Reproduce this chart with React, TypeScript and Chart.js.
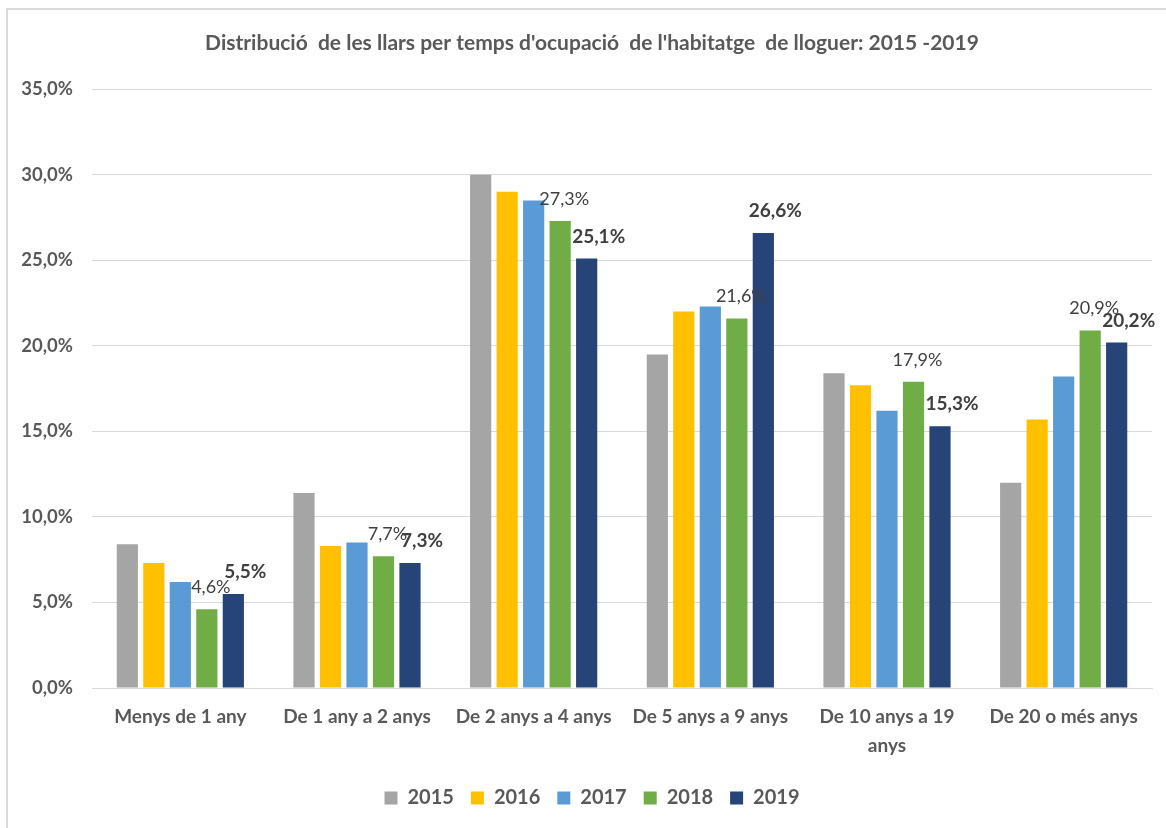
import React, { useEffect, useRef } from "react";
import { Chart, registerables } from "chart.js";

Chart.register(...registerables);

const categories: (string | string[])[] = [
  "Menys de 1 any",
  "De 1 any a 2 anys",
  "De 2 anys a 4 anys",
  "De 5 anys a 9 anys",
  ["De 10 anys a 19", "anys"],
  "De 20 o més anys",
];

const years = ["2015", "2016", "2017", "2018", "2019"];

const values2015 = [8.4, 11.4, 30.0, 19.5, 18.4, 12.0];
const values2016 = [7.3, 8.3, 29.0, 22.0, 17.7, 15.7];
const values2017 = [6.2, 8.5, 28.5, 22.3, 16.2, 18.2];
const values2018 = [4.6, 7.7, 27.3, 21.6, 17.9, 20.9];
const values2019 = [5.5, 7.3, 25.1, 26.6, 15.3, 20.2];

const colors = ["#A5A5A5", "#FFC000", "#5B9BD5", "#70AD47", "#264478"];

const yTicksMax = 35;
const yTicksStep = 5;

const FONT = "Lato, 'Open Sans', sans-serif";
const TEXT = "#595959";

const fmt = (v: number) => v.toFixed(1).replace(".", ",") + "%";

const labelPlugin = {
  id: "barValueLabels",
  afterDatasetsDraw(chart: any) {
    const ctx = chart.ctx;
    ctx.save();
    ctx.textAlign = "center";
    ctx.textBaseline = "middle";
    ctx.fillStyle = "#404040";
    [3, 4].forEach((di) => {
      const meta = chart.getDatasetMeta(di);
      const ds = chart.data.datasets[di];
      const bold = di === 4;
      ctx.font = `${bold ? "bold " : ""}${bold ? 19 : 18}px ${FONT}`;
      meta.data.forEach((bar: any, i: number) => {
        const v = ds.data[i] as number;
        const dx = bold ? 12 : 4;
        ctx.fillText(fmt(v), bar.x + dx, bar.y - 22);
      });
    });
    ctx.restore();
  },
};

export default function App() {
  const ref = useRef<HTMLCanvasElement | null>(null);

  useEffect(() => {
    document.body.style.margin = "0";
    const all = [values2015, values2016, values2017, values2018, values2019];
    const chart = new Chart(ref.current as HTMLCanvasElement, {
      type: "bar",
      data: {
        labels: categories as any,
        datasets: years.map((y, i) => ({
          label: y,
          data: all[i],
          backgroundColor: colors[i],
          borderWidth: 0,
          categoryPercentage: 0.75,
          barPercentage: 0.8,
        })),
      },
      options: {
        animation: false,
        responsive: false,
        maintainAspectRatio: false,
        layout: { padding: { left: 32, right: 14, top: 0, bottom: 10 } },
        plugins: {
          title: {
            display: true,
            text: "Distribució  de les llars per temps d'ocupació  de l'habitatge  de lloguer: 2015 -2019",
            color: TEXT,
            font: { family: FONT, size: 21, weight: "bold", lineHeight: 1.2 },
            padding: { top: 31, bottom: 33 },
          },
          legend: {
            position: "bottom",
            labels: {
              color: TEXT,
              font: { family: FONT, size: 20, weight: "bold" },
              boxWidth: 13,
              boxHeight: 13,
              padding: 17,
            },
          },
          tooltip: { enabled: false },
        },
        scales: {
          x: {
            grid: { display: false, drawTicks: false },
            border: { display: true, color: "#D9D9D9", width: 1 },
            ticks: {
              color: TEXT,
              font: { family: FONT, size: 19, weight: "bold", lineHeight: 1.5 },
              padding: 15,
              maxRotation: 0,
              autoSkip: false,
            },
            afterFit: (axis: any) => {
              axis.height = 83;
            },
          },
          y: {
            min: 0,
            max: yTicksMax,
            grid: { color: "#D9D9D9", lineWidth: 1, drawTicks: false },
            border: { display: false },
            ticks: {
              stepSize: yTicksStep,
              color: TEXT,
              font: { family: FONT, size: 18.5, weight: "bold" },
              padding: 19,
              callback: (v: any) => fmt(Number(v)),
            },
            afterFit: (axis: any) => {
              axis.width = 60;
              // let the tick labels extend left of the (narrow) axis box
              axis._computeLabelArea = () => undefined;
            },
          },
        },
      },
      plugins: [labelPlugin],
    });
    return () => chart.destroy();
  }, []);

  return (
    <div style={{ position: "fixed", left: 0, top: 0, width: 1166, height: 828, background: "#fff" }}>
      <div
        style={{
          position: "absolute",
          left: 6,
          top: 8,
          right: -10,
          bottom: -10,
          borderTop: "2px solid #D9D9D9",
          borderLeft: "2px solid #D9D9D9",
        }}
      />
      <canvas ref={ref} width={1166} height={828} style={{ position: "absolute", left: 0, top: 0 }} />
    </div>
  );
}
